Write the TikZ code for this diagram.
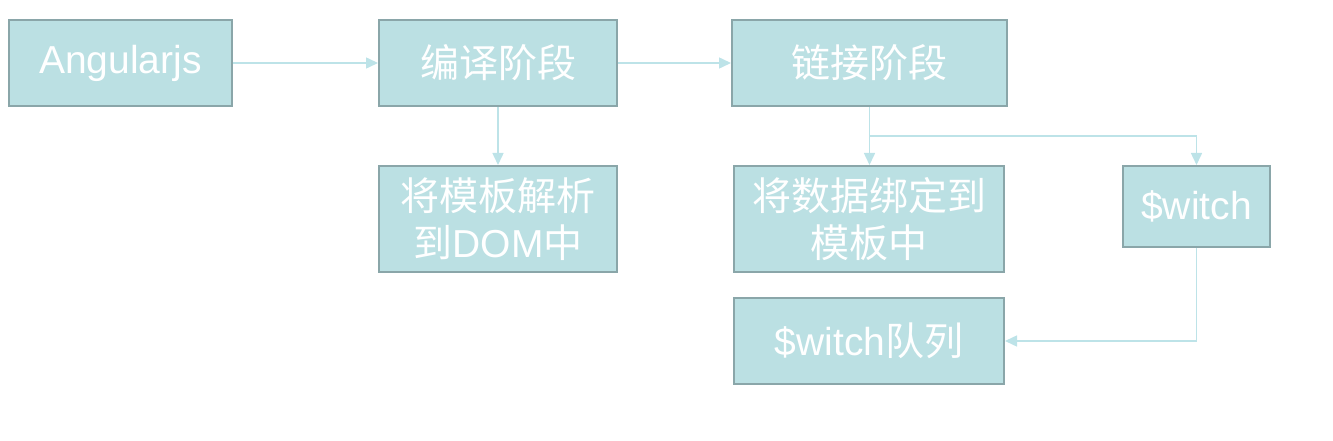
\documentclass[tikz,border=0pt]{standalone}
\usepackage{fontspec}
\setmainfont{Liberation Sans}
\newfontfamily\cjk{Noto Sans CJK SC}
\usetikzlibrary{arrows.meta}
\definecolor{boxfill}{HTML}{BBE0E3}
\definecolor{boxline}{HTML}{8AA6A9}
\definecolor{arrowline}{HTML}{BDE3E8}

\begin{document}
\begin{tikzpicture}[x=1pt,y=-1pt,
	box/.style={draw=boxline,fill=boxfill,line width=2pt,text=white,inner sep=0pt,
		align=center,font=\fontsize{39}{47}\selectfont},
	link/.style={draw=arrowline,line width=1.5pt,-{Triangle[length=12pt,width=11pt]}}]
	\useasboundingbox (0,0) rectangle (1333,441);
	
	\node[box,minimum width=223pt,minimum height=86pt] (ng) at (120.5,63) {Angularjs};
	\node[box,minimum width=238pt,minimum height=86pt] (compile) at (498,63) {\cjk 编译阶段};
	\node[box,minimum width=275pt,minimum height=86pt] (linking) at (869.5,63) {\cjk 链接阶段};
	\node[box,minimum width=238pt,minimum height=106pt] (parse) at (498,219) {{\cjk 将模板解析}\\{\cjk 到}DOM{\cjk 中}};
	\node[box,minimum width=270pt,minimum height=106pt] (bind) at (869,219) {{\cjk 将数据绑定到}\\{\cjk 模板中}};
	\node[box,minimum width=147pt,minimum height=81pt] (watch) at (1196.5,206.5) {\$witch};
	\node[box,minimum width=270pt,minimum height=86pt] (queue) at (869,341) {\$witch{\cjk 队列}};
	
	\coordinate (fork) at (869.5,136);
	
	\draw[link] (ng) -- (compile);
	\draw[link] (compile) -- (linking);
	\draw[link] (compile) -- (parse);
	\draw[link] (linking.south) -- (linking.south |- bind.north);
	\draw[link] (fork) -| (watch.north);
	\draw[link] (watch.south) |- (queue.east);
	
\end{tikzpicture}
\end{document}
